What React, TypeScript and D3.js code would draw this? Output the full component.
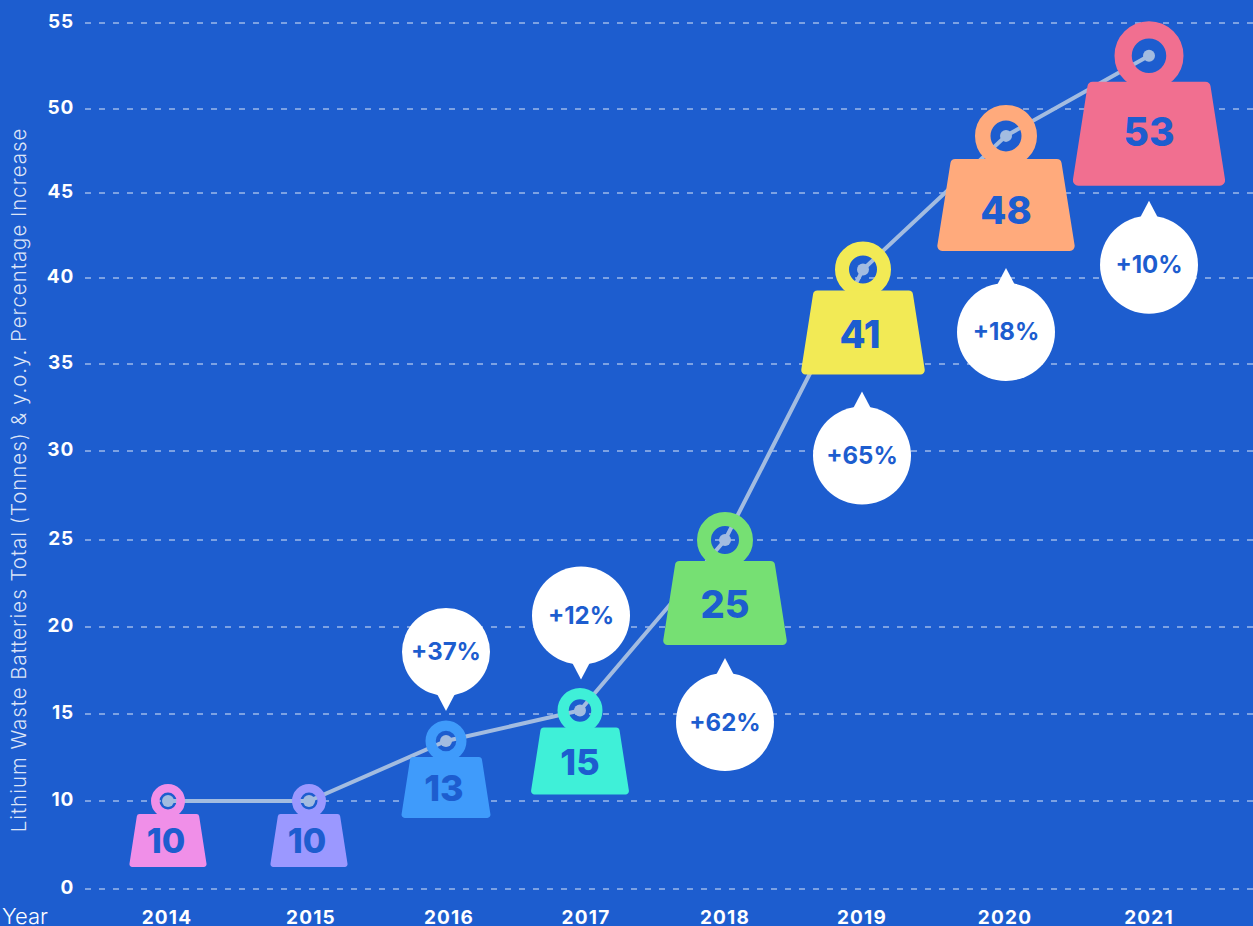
import React, { useEffect } from "react";
import * as d3 from "d3";

// ---- data ----
const years = ["2014", "2015", "2016", "2017", "2018", "2019", "2020", "2021"];
const totals = [10, 10, 13.45, 15.2, 25, 40.5, 48.4, 53.1];
const weightLabels = ["10", "10", "13", "15", "25", "41", "48", "53"];
const changeLabels = ["", "", "+37%", "+12%", "+62%", "+65%", "+18%", "+10%"];
const yTicks = [0, 10, 15, 20, 25, 30, 35, 40, 45, 50, 55];
const yTitle = "Lithium Waste Batteries Total (Tonnes) & y.o.y. Percentage Increase";

// ---- layout and style ----
const W = 1253;
const H = 926;
const BG = "#1d5dcf";
const LINE = "#a3bce0";
const colors = ["#f08fe8", "#9b98ff", "#3f9bfb", "#3ff0d8", "#76e073", "#f2ea55", "#ffaa7c", "#f16f90"];
const FONT = "Inter, 'Noto Sans', sans-serif";
const gridRows = [889, 801, 714, 627, 540, 451, 364, 278, 193, 109, 23];
const markX = [168, 309, 446, 580, 725, 863, 1006, 1149];
const labelX = [167, 311, 449, 586, 725, 862, 1005, 1149];
const weightW = [78, 78, 90, 99, 125, 125, 139, 154];
const weightH = [53, 53, 61, 67, 84, 84, 92, 104];
const ringR = [17, 17, 20.5, 22.5, 28, 28, 31, 34.5];
const bodyGap = [13, 13, 16, 17, 21, 21, 23, 26];
const numSize = [34, 34, 36, 36, 38, 38, 38, 39];
const numDx = [-2, -2, -2, 0, 0, -3, 0, 0];
const numDy = [-1, -1, 0, 0, 0, 0, 4, -3];
const bubbleDx = [0, 0, 0, 1, 0, -1, 0, 0];
const bubbleDy = [0, 0, -89, -95, 182, 186, 196, 209];
const bubbleR = [0, 0, 44, 49, 49, 49, 49, 49];

const x = d3.scaleOrdinal<string, number>().domain(years).range(markX);
const xLabel = d3.scaleOrdinal<string, number>().domain(years).range(labelX);
const y = d3.scaleLinear().domain(yTicks).range(gridRows);

function bodyPath(cx: number, top: number, w: number, h: number) {
  const r = w * 0.035;
  const tw = w * 0.79;
  const pts: [number, number][] = [
    [cx - tw / 2, top],
    [cx + tw / 2, top],
    [cx + w / 2, top + h],
    [cx - w / 2, top + h],
  ];
  const p = d3.path();
  p.moveTo(cx, top);
  for (let i = 1; i <= 4; i++) {
    const a = pts[i % 4];
    const b = pts[(i + 1) % 4];
    p.arcTo(a[0], a[1], b[0], b[1], r);
  }
  p.lineTo(cx, top);
  p.closePath();
  return p.toString();
}

function tipPath(cx: number, cy: number, r: number, up: boolean) {
  const s = up ? -1 : 1;
  const p = d3.path();
  const base = cy + s * (r - 4);
  const tip = cy + s * (r + 15);
  p.moveTo(cx - 10, base);
  p.lineTo(cx, tip);
  p.lineTo(cx + 10, base);
  p.closePath();
  return p.toString();
}

export default function App() {
  useEffect(() => {
    document.body.style.margin = "0";
    document.body.style.background = BG;
  }, []);
  const line = d3
    .line<number>()
    .x((_, i) => x(years[i]))
    .y((d) => y(d));
  return (
    <svg width={W} height={H} viewBox={`0 0 ${W} ${H}`} style={{ display: "block" }}>
      <rect width={W} height={H} fill={BG} />
      {yTicks.map((t) => (
        <g key={t}>
          <line x1={85} x2={W} y1={y(t)} y2={y(t)} stroke="#fff" strokeOpacity={0.85} strokeWidth={1} strokeDasharray="6 8" />
          <text x={74} y={y(t) - 2} textAnchor="end" dominantBaseline="central" fontFamily={FONT} fontWeight={700} fontSize={19} letterSpacing={0.8} fill="#fff">
            {t}
          </text>
        </g>
      ))}
      <text
        transform="translate(18,480) rotate(-90)"
        textAnchor="middle"
        dominantBaseline="central"
        fontFamily={FONT}
        fontWeight={300}
        fontSize={20.4}
        letterSpacing={1}
        fill="#fff"
        fillOpacity={0.85}
      >
        {yTitle}
      </text>
      <text x={2} y={924} fontFamily={FONT} fontWeight={300} fontSize={22} fill="#fff">
        Year
      </text>
      {years.map((yr) => (
        <text key={yr} x={xLabel(yr)} y={923.5} textAnchor="middle" fontFamily={FONT} fontWeight={700} fontSize={19} letterSpacing={1.2} fill="#fff">
          {yr}
        </text>
      ))}
      <path d={line(totals) || ""} fill="none" stroke={LINE} strokeWidth={4} />
      {totals.map((v, i) => (
        <circle key={i} cx={x(years[i])} cy={y(v)} r={6} fill={LINE} />
      ))}
      {years.map((yr, i) => {
        const cx = x(yr);
        const cy = y(totals[i]);
        const R = ringR[i];
        const top = cy + bodyGap[i];
        return (
          <g key={yr}>
            <circle cx={cx} cy={cy} r={R * 0.75} fill="none" stroke={colors[i]} strokeWidth={R * 0.5} />
            <path d={bodyPath(cx, top, weightW[i], weightH[i])} fill={colors[i]} />
            <text
              x={cx + numDx[i]}
              y={top + weightH[i] / 2 + 1 + numDy[i]}
              textAnchor="middle"
              dominantBaseline="central"
              fontFamily={FONT}
              fontWeight={800}
              fontSize={numSize[i]}
              fill={BG}
            >
              {weightLabels[i]}
            </text>
          </g>
        );
      })}
      {years.map((yr, i) => {
        if (!changeLabels[i]) return null;
        const cx = x(yr) + bubbleDx[i];
        const cy = y(totals[i]) + bubbleDy[i];
        return (
          <g key={yr}>
            <circle cx={cx} cy={cy} r={bubbleR[i]} fill="#fff" />
            <path d={tipPath(cx, cy, bubbleR[i], bubbleDy[i] > 0)} fill="#fff" />
            <text x={cx} y={cy} textAnchor="middle" dominantBaseline="central" fontFamily={FONT} fontWeight={700} fontSize={24} fill={BG}>
              {changeLabels[i]}
            </text>
          </g>
        );
      })}
    </svg>
  );
}
